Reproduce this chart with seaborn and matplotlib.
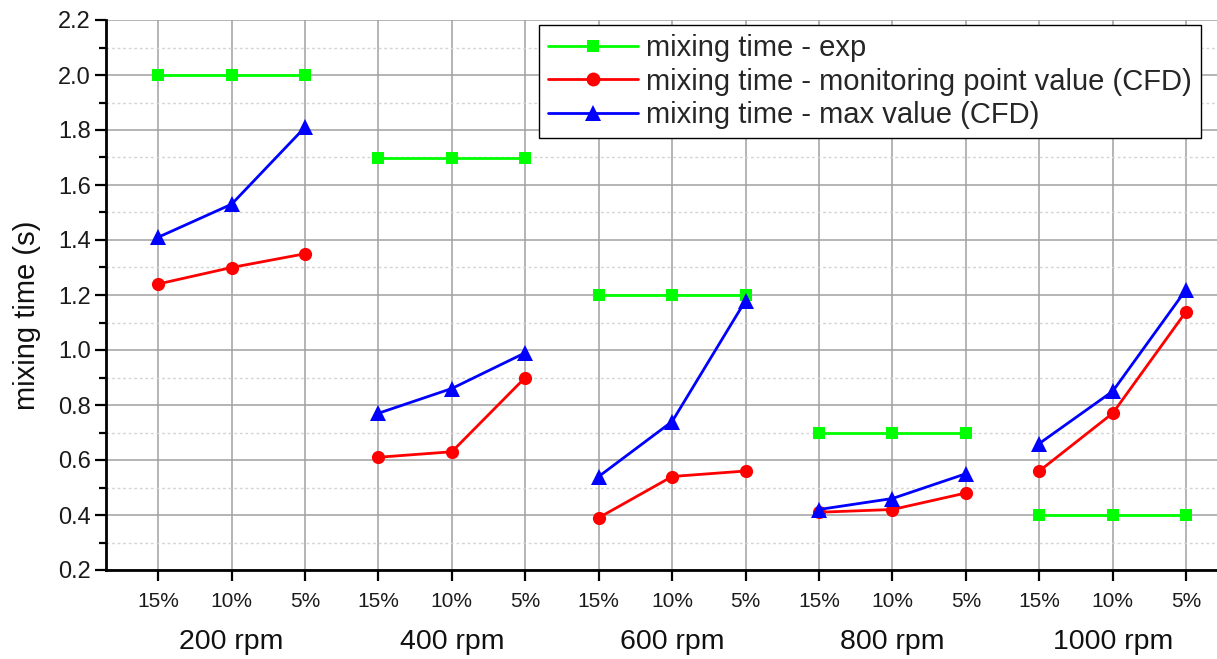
import matplotlib
matplotlib.use("Agg")
import matplotlib.pyplot as plt
from matplotlib.ticker import MultipleLocator, FixedLocator
import numpy as np
import pandas as pd
import seaborn as sns

# Stirring speeds and tracer volume fractions
speeds = ["200 rpm", "400 rpm", "600 rpm", "800 rpm", "1000 rpm"]
fractions = ["15%", "10%", "5%"]

# Mixing times (s), three values per speed (15%, 10%, 5%)
exp_time = [2.0, 2.0, 2.0, 1.7, 1.7, 1.7, 1.2, 1.2, 1.2, 0.7, 0.7, 0.7, 0.4, 0.4, 0.4]
monitor_time = [1.24, 1.30, 1.35, 0.61, 0.63, 0.90, 0.39, 0.54, 0.56,
                0.41, 0.42, 0.48, 0.56, 0.77, 1.14]
max_time = [1.41, 1.53, 1.81, 0.77, 0.86, 0.99, 0.54, 0.74, 1.18,
            0.42, 0.46, 0.55, 0.66, 0.85, 1.22]

series_names = ["mixing time - exp",
                "mixing time - monitoring point value (CFD)",
                "mixing time - max value (CFD)"]

rows = []
for name, vals in zip(series_names, [exp_time, monitor_time, max_time]):
    for i, v in enumerate(vals):
        rows.append({"series": name, "pos": i + 1, "group": speeds[i // 3],
                     "time": v})
df = pd.DataFrame(rows)

sns.set_theme(style="white")
plt.rcParams["font.family"] = ["Liberation Sans", "DejaVu Sans"]

fig = plt.figure(figsize=(12.17, 6.59), dpi=100)
ax = fig.add_axes([106 / 1217, 1 - 570 / 659, 1 - 106 / 1217, 550 / 659])

styles = {
    series_names[0]: dict(color="#00ff00", marker="s", markersize=8.5),
    series_names[1]: dict(color="#ff0000", marker="o", markersize=9.5),
    series_names[2]: dict(color="#0000ff", marker="^", markersize=11),
}

for z, name in enumerate(series_names):
    st = styles[name]
    sns.lineplot(data=df[df["series"] == name], x="pos", y="time",
                 units="group", estimator=None, sort=False, ax=ax,
                 color=st["color"], marker=st["marker"],
                 markersize=st["markersize"], markeredgewidth=0,
                 linewidth=2.0, zorder=3 + z, legend=False)

# Axes ranges and ticks
ax.set_xlim(0.29, 15.42)
ax.set_ylim(0.2, 2.2)
ax.xaxis.set_major_locator(FixedLocator(np.arange(1, 16)))
ax.set_xticklabels(fractions * len(speeds), fontsize=15, color="#1a1a1a")
ax.yaxis.set_minor_locator(MultipleLocator(0.1))
ax.set_yticks(np.arange(0.2, 2.21, 0.2))
ax.set_yticklabels([f"{v:.1f}" for v in np.arange(0.2, 2.21, 0.2)],
                   fontsize=17, color="#1a1a1a")

ax.tick_params(axis="both", which="major", direction="out", length=8,
               width=1.6, color="black", left=True, bottom=True, pad=3)
ax.tick_params(axis="y", which="minor", direction="out", length=5,
               width=1.6, color="black", left=True)
ax.tick_params(axis="x", pad=8)

# Grid: solid major lines, dotted minor lines
ax.grid(True, which="major", axis="both", color="#a0a0a0", linewidth=1.1,
        linestyle="-", zorder=0)
ax.grid(True, which="minor", axis="y", color="#d4d4d4", linewidth=1.0,
        linestyle=(0, (2, 2)), zorder=0)
ax.set_axisbelow(True)

for side in ["top", "right"]:
    ax.spines[side].set_visible(False)
for side in ["left", "bottom"]:
    ax.spines[side].set_color("black")
    ax.spines[side].set_linewidth(2.0)

ax.set_xlabel("")
ax.set_ylabel("")
fig.text(27 / 1217, 1 - 315 / 659, "mixing time (s)", rotation=90,
         ha="center", va="center", fontsize=21, color="#111111")

# Speed labels centred under each group
for i, sp in enumerate(speeds):
    ax.text(3 * i + 2, -0.131, sp, transform=ax.get_xaxis_transform(),
            ha="center", va="center", fontsize=20.5, color="#111111")

handles = []
for name in series_names:
    st = styles[name]
    h, = ax.plot([], [], color=st["color"], marker=st["marker"],
                 markersize=st["markersize"] + 0.5, markeredgewidth=0,
                 linewidth=2.0)
    handles.append(h)
leg = ax.legend(handles, series_names, loc="upper right",
                bbox_to_anchor=(1201 / 1217, 1 - 25 / 659),
                bbox_transform=fig.transFigure, prop={"size": 21},
                frameon=True, fancybox=False, edgecolor="black", framealpha=1,
                handlelength=3.1, borderpad=0.3, labelspacing=0.2,
                handletextpad=0.28, borderaxespad=0)
leg.get_frame().set_linewidth(1.0)
leg.set_zorder(10)

fig.savefig("out.png", dpi=100)
